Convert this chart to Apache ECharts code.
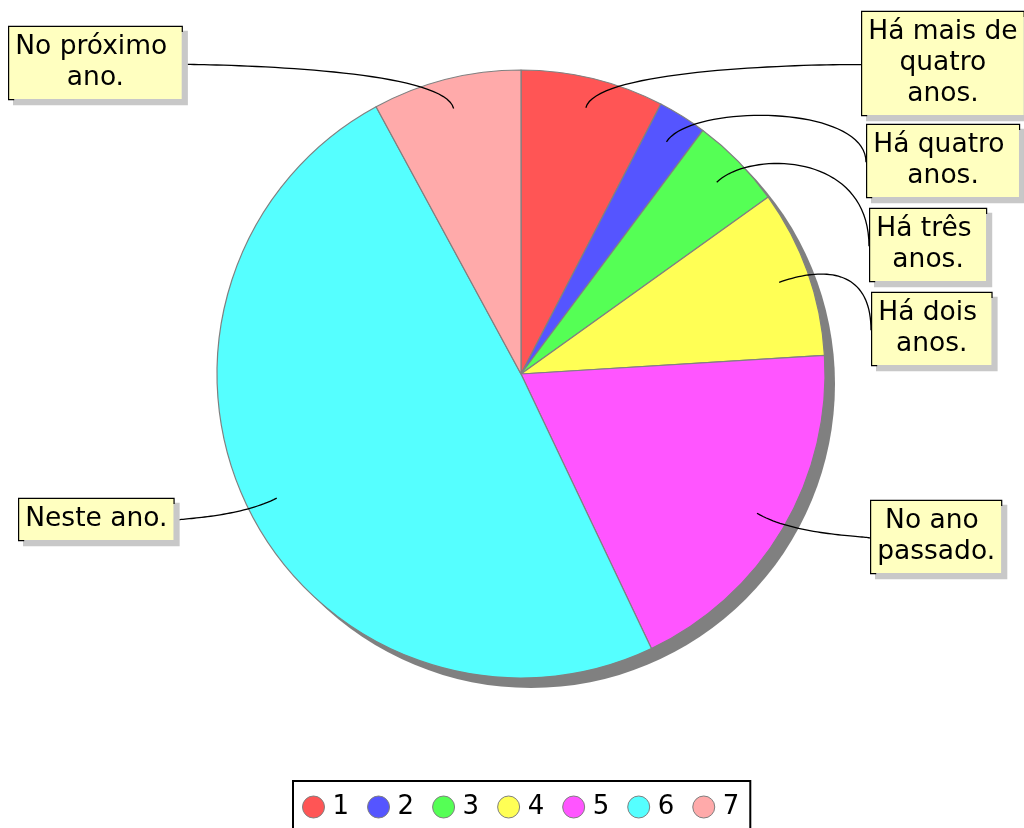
<!DOCTYPE html>
<html>
<head>
<meta charset="utf-8">
<script src="https://cdn.jsdelivr.net/npm/echarts@6/dist/echarts.min.js"></script>
<style>
  html, body { margin: 0; padding: 0; background: #fff; }
  #chart { width: 1024px; height: 828px; }
</style>
</head>
<body>
<div id="chart"></div>
<script>
// legend names (1..7) and the answer text shown in each callout
const categories = ['1', '2', '3', '4', '5', '6', '7'];
const answers = [
  'Há mais de\nquatro\nanos.',
  'Há quatro \nanos.',
  'Há três \nanos.',
  'Há dois \nanos.',
  'No ano \npassado.',
  'Neste ano.',
  'No próximo \nano.'
];
// share of answers per slice, in percent
const shares = [7.6, 2.6, 4.9, 8.9, 18.9, 49.1, 7.9];

const colors = ['#ff5555', '#5555ff', '#55ff55', '#ffff55', '#ff55ff', '#55ffff', '#ffaaaa'];

// layout
const center = [521, 374];
const radius = 304;
const lineRadius = 274; // leader lines start a bit inside the slice
// top-left corner of every callout box
const boxPos = [[861, 12], [866, 125], [869, 209], [871, 293], [870, 501], [18, 499], [8, 27]];

const chart = echarts.init(document.getElementById('chart'));

// cubic curve: leaves the slice radially, bends round to the box
function leaderCurve(p0, c1, c2, p3) {
  const pts = [];
  for (let i = 0; i <= 40; i++) {
    const t = i / 40, u = 1 - t;
    const a = u * u * u, b = 3 * u * u * t, c = 3 * u * t * t, d = t * t * t;
    pts.push([
      a * p0[0] + b * c1[0] + c * c2[0] + d * p3[0],
      a * p0[1] + b * c1[1] + c * c2[1] + d * p3[1]
    ]);
  }
  return pts;
}

const option = {
  animation: false,
  backgroundColor: '#fff',
  legend: {
    data: categories,
    left: 293,
    top: 781,
    orient: 'horizontal',
    padding: [13, 11, 30, 9],
    backgroundColor: '#fff',
    borderColor: '#000',
    borderWidth: 2,
    borderRadius: 0,
    icon: 'circle',
    itemWidth: 22,
    itemHeight: 22,
    itemGap: 18,
    itemStyle: { borderColor: '#808080', borderWidth: 1 },
    textStyle: {
      fontFamily: 'DejaVu Sans',
      fontSize: 26,
      color: '#000',
      padding: [0, 0, 0, 3]
    }
  },
  series: [
    {
      // drop shadow under the pie
      name: 'shadow',
      type: 'pie',
      silent: true,
      z: 1,
      center: [center[0] + 10, center[1] + 10],
      radius: radius,
      label: { show: false },
      labelLine: { show: false },
      itemStyle: { color: '#808080' },
      data: [{ name: 'shadow', value: 1 }]
    },
    {
      name: 'main',
      type: 'pie',
      silent: true,
      z: 2,
      center: center,
      radius: radius,
      startAngle: 90,
      clockwise: true,
      label: { show: false },
      labelLine: { show: false },
      itemStyle: { borderColor: '#808080', borderWidth: 1.2 },
      data: categories.map((c, i) => ({ name: c, value: shares[i], itemStyle: { color: colors[i] } }))
    },
    {
      // invisible pie that only carries the callouts
      name: 'callouts',
      type: 'pie',
      silent: true,
      z: 5,
      center: center,
      radius: lineRadius,
      startAngle: 90,
      clockwise: true,
      avoidLabelOverlap: false,
      itemStyle: { color: 'rgba(0,0,0,0)', borderWidth: 0 },
      label: {
        show: true,
        position: 'outside',
        formatter: p => answers[p.dataIndex],
        fontFamily: 'DejaVu Sans',
        fontSize: 26.5,
        lineHeight: 31,
        color: '#000',
        align: 'center',
        backgroundColor: '#ffffc0',
        borderColor: '#000',
        borderWidth: 1.2,
        padding: [5, 6],
        shadowColor: '#c8c8c8',
        shadowBlur: 0,
        shadowOffsetX: 5,
        shadowOffsetY: 5
      },
      labelLine: {
        show: true,
        length: 10,
        length2: 10,
        lineStyle: { color: '#000', width: 1.3 }
      },
      labelLayout: function (params) {
        const pos = boxPos[params.dataIndex];
        const w = params.labelRect.width;
        const h = params.labelRect.height;
        const res = { x: pos[0] + w / 2, y: pos[1], align: 'center', verticalAlign: 'top' };
        const pts = params.labelLinePoints;
        if (pts && pts.length > 1) {
          const p0 = pts[0];
          let dx = pts[1][0] - p0[0], dy = pts[1][1] - p0[1];
          const len = Math.hypot(dx, dy) || 1;
          dx /= len; dy /= len;
          const onLeft = pos[0] + w / 2 < center[0];
          const end = [onLeft ? pos[0] + w : pos[0], pos[1] + h / 2];
          const c1 = [p0[0] + dx * 45, p0[1] + dy * 45];
          const c2 = [end[0], c1[1]];
          res.labelLinePoints = leaderCurve(p0, c1, c2, end);
        }
        return res;
      },
      data: categories.map((c, i) => ({ name: c, value: shares[i] }))
    }
  ]
};

chart.setOption(option);
</script>
</body>
</html>
